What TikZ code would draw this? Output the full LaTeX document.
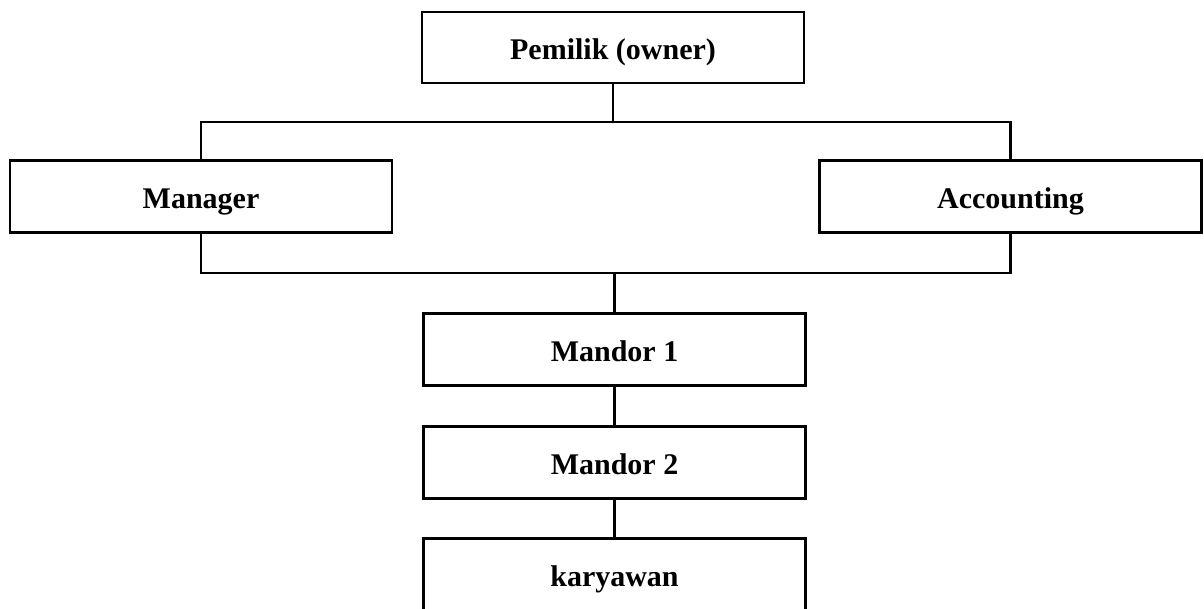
\documentclass[tikz,border=0pt]{standalone}
\usepackage{fontspec}
\setmainfont{Liberation Serif}
\begin{document}
\begin{tikzpicture}[x=1pt,y=-1pt,
  orgbox/.style={draw=black,line width=2.2pt,fill=white,rectangle,
    minimum width=382pt,minimum height=72pt,inner sep=0pt,
    text height=28pt,text depth=5pt,
    font=\fontsize{30}{36}\selectfont\bfseries},
  conn/.style={draw=black,line width=2.2pt}]
\clip (0,0) rectangle (1204,608);
\fill[white] (0,0) rectangle (1204,608);
\node[orgbox,minimum height=71pt] (own) at (613,47.5) {Pemilik (owner)};
\node[orgbox] (man) at (201,196.5) {Manager};
\node[orgbox] (acc) at (1010.5,196.5) {Accounting};
\node[orgbox] (m1) at (614.5,349.5) {Mandor 1};
\node[orgbox] (m2) at (614.5,462.5) {Mandor 2};
\node[orgbox] (kar) at (614.5,574.5) {karyawan};
\coordinate (tbar) at (613,122);
\coordinate (bbar) at (614.5,273);
\draw[conn] (own.south) -- (tbar);
\draw[conn] (man.north) |- (tbar) -| (acc.north);
\draw[conn] (man.south) |- (bbar) -| (acc.south);
\draw[conn] (bbar) -- (m1.north);
\draw[conn] (m1.south) -- (m2.north);
\draw[conn] (m2.south) -- (kar.north);
\end{tikzpicture}
\end{document}
